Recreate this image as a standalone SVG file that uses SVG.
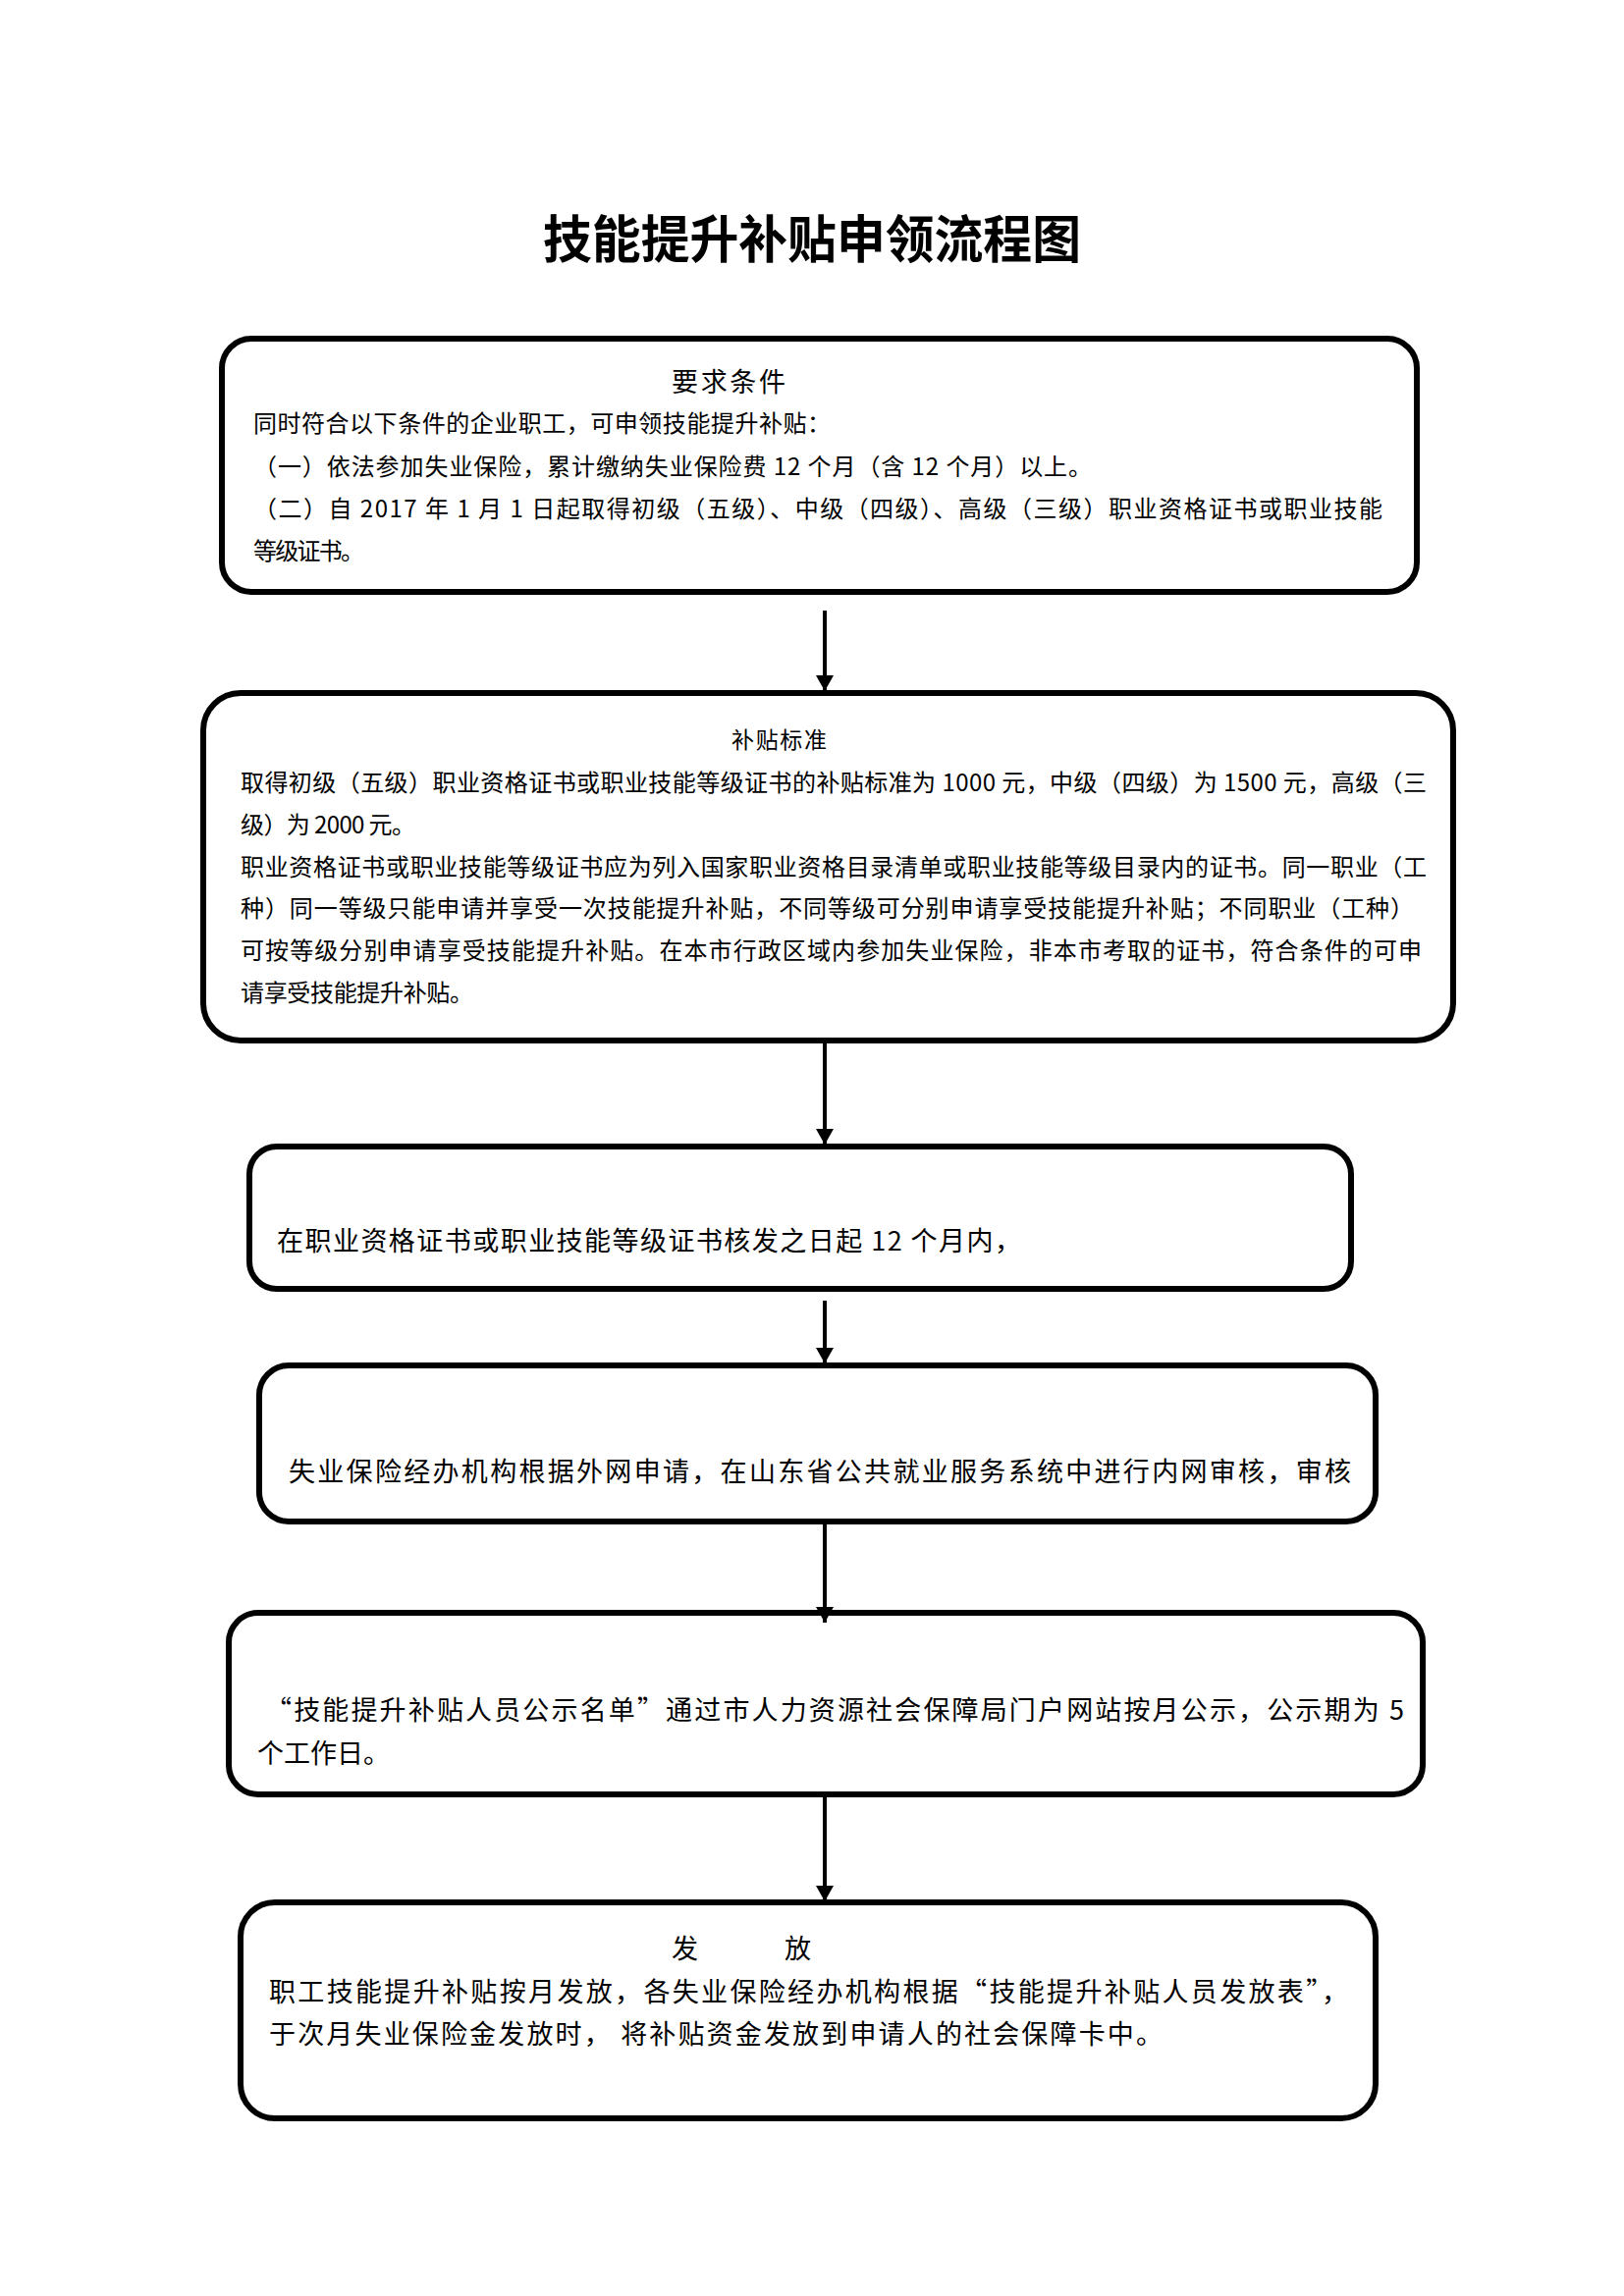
<svg xmlns="http://www.w3.org/2000/svg" width="1654" height="2339" viewBox="0 0 1654 2339">
<style>
.box{fill:#fff;stroke:#000;stroke-width:6}
.t{font-family:"Noto Sans CJK SC","Liberation Sans",sans-serif;fill:#000;font-size:24px}
.s{font-family:"Noto Sans CJK SC","Liberation Serif",serif;fill:#000;font-size:27px}
.title{font-family:"Noto Sans CJK SC",sans-serif;font-weight:bold;font-size:52px;fill:#000}
.conn{stroke:#000;stroke-width:4;fill:none}
</style>
<defs>
<marker id="ah" markerUnits="userSpaceOnUse" markerWidth="20" markerHeight="18" refX="16" refY="9" orient="auto">
<path d="M0,0 L16,9 L0,18 Z" fill="#000"/>
</marker>
</defs>
<rect width="1654" height="2339" fill="#fff"/>
<text class="title" x="553" y="263" textLength="548" lengthAdjust="spacingAndGlyphs">技能提升补贴申领流程图</text>

<g id="node1">
<rect class="box" x="226" y="345" width="1217" height="258" rx="30"/>
<text class="t" x="684" y="399" style="font-size:27px" textLength="116">要求条件</text>
<text class="t" x="258" y="440" textLength="588">同时符合以下条件的企业职工，可申领技能提升补贴：</text>
<text class="t" x="258" y="484" textLength="854">（一）依法参加失业保险，累计缴纳失业保险费 12 个月（含 12 个月）以上。</text>
<text class="t" x="258" y="527" textLength="1150">（二）自 2017 年 1 月 1 日起取得初级（五级）、中级（四级）、高级（三级）职业资格证书或职业技能</text>
<text class="t" x="258" y="570" textLength="113">等级证书。</text>
</g>

<g id="node2">
<rect class="box" x="207" y="706" width="1273" height="354" rx="38"/>
<text class="t" x="745" y="762" style="font-size:23px" textLength="97">补贴标准</text>
<text class="t" x="245" y="806" textLength="1208">取得初级（五级）职业资格证书或职业技能等级证书的补贴标准为 1000 元，中级（四级）为 1500 元，高级（三</text>
<text class="t" x="245" y="849" textLength="178">级）为 2000 元。</text>
<text class="t" x="245" y="892" textLength="1208">职业资格证书或职业技能等级证书应为列入国家职业资格目录清单或职业技能等级目录内的证书。同一职业（工</text>
<text class="t" x="245" y="934" textLength="1195">种）同一等级只能申请并享受一次技能提升补贴，不同等级可分别申请享受技能提升补贴；不同职业（工种）</text>
<text class="t" x="245" y="977" textLength="1203">可按等级分别申请享受技能提升补贴。在本市行政区域内参加失业保险，非本市考取的证书，符合条件的可申</text>
<text class="t" x="245" y="1020" textLength="237">请享受技能提升补贴。</text>
</g>

<g id="node3">
<rect class="box" x="254" y="1168" width="1122" height="145" rx="28"/>
<text class="s" x="282" y="1274" textLength="758">在职业资格证书或职业技能等级证书核发之日起 12 个月内，</text>
</g>

<g id="node4">
<rect class="box" x="264" y="1391" width="1137" height="159" rx="30"/>
<text class="s" x="294" y="1509" textLength="1082">失业保险经办机构根据外网申请，在山东省公共就业服务系统中进行内网审核，审核</text>
</g>

<g id="node5">
<rect class="box" x="233" y="1643" width="1216" height="185" rx="30"/>
<text class="s" x="270" y="1752" textLength="1160">“技能提升补贴人员公示名单”通过市人力资源社会保障局门户网站按月公示，公示期为 5</text>
<text class="s" x="262" y="1796" textLength="135">个工作日。</text>
</g>

<g id="node6">
<rect class="box" x="245" y="1938" width="1156" height="220" rx="35"/>
<text class="s" x="684" y="1995">发</text>
<text class="s" x="799" y="1995">放</text>
<text class="s" x="274" y="2039" textLength="1099">职工技能提升补贴按月发放，各失业保险经办机构根据“技能提升补贴人员发放表”，</text>
<text class="s" x="274" y="2082" textLength="910">于次月失业保险金发放时， 将补贴资金发放到申请人的社会保障卡中。</text>
</g>

<g id="connectors">
<line class="conn" x1="840" y1="622" x2="840" y2="704" marker-end="url(#ah)"/>
<line class="conn" x1="840" y1="1063" x2="840" y2="1166" marker-end="url(#ah)"/>
<line class="conn" x1="840" y1="1325" x2="840" y2="1389" marker-end="url(#ah)"/>
<line class="conn" x1="840" y1="1553" x2="840" y2="1653" marker-end="url(#ah)"/>
<line class="conn" x1="840" y1="1831" x2="840" y2="1937" marker-end="url(#ah)"/>
</g>
</svg>
